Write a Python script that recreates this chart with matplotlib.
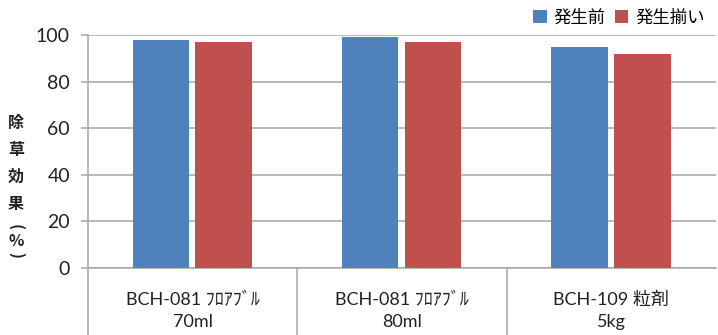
import numpy as np
import matplotlib.pyplot as plt
import matplotlib.transforms as mtransforms

plt.rcParams['font.family'] = ['Lato', 'Noto Sans CJK JP', 'DejaVu Sans']

# data
categories = ['BCH-081 ﾌﾛｱﾌﾞﾙ\n70ml', 'BCH-081 ﾌﾛｱﾌﾞﾙ\n80ml', 'BCH-109 粒剤\n5kg']
series_names = ['発生前', '発生揃い']
before = [98, 99, 95]
after = [97, 97, 92]
ylabel_chars = ['除', '草', '効', '果', '(', '%', ')']

blue = '#4F81BD'
red = '#C0504D'
grey = '#A6A6A6'

fig = plt.figure(figsize=(7.18, 3.35), dpi=100)
ax = fig.add_axes([88 / 718, 67 / 335, 628 / 718, 233 / 335])

x = np.arange(len(categories))
w = 0.27
ax.bar(x - 0.152, before, w, color=blue, label=series_names[0], zorder=3)
ax.bar(x + 0.148, after, w, color=red, label=series_names[1], zorder=3)

ax.set_xlim(-0.5, 2.5)
ax.set_ylim(0, 100)
ax.set_yticks(range(0, 101, 20))
ax.yaxis.grid(True, color=grey, linewidth=1.1, zorder=0)
ax.tick_params(axis='y', length=5, width=1.1, color=grey, labelsize=14, pad=8,
               labelcolor='#222222')
ax.tick_params(axis='x', length=0, labelsize=13, pad=17, labelcolor='#222222')
ax.set_xticks(x)
ax.set_xticklabels(categories, linespacing=1.45)
for lbl in ax.get_xticklabels():
    lbl.set_multialignment('center')

for s in ['top', 'right']:
    ax.spines[s].set_visible(False)
for s in ['left', 'bottom']:
    ax.spines[s].set_color(grey)
    ax.spines[s].set_linewidth(1.1)

# category separators extending below the axis
trans = mtransforms.blended_transform_factory(ax.transData, ax.transAxes)
for xs in [-0.5, 0.5, 1.5]:
    ax.plot([xs, xs], [0, -0.30], color=grey, linewidth=1.1, transform=trans,
            clip_on=False)

# vertical y label, one character per row; brackets turned for vertical writing
cjk = ['Noto Sans CJK JP', 'DejaVu Sans']
ypix = [123, 150, 177, 204, 227, 241, 255]
for ch, yp in zip(ylabel_chars, ypix):
    rot = -90 if ch in '()' else 0
    fig.text(16 / 718, 1 - yp / 335, ch, ha='center', va='center', rotation=rot,
             fontsize=11.5, fontweight='bold', family=cjk, color='#222222')

fig.legend(loc='upper right', bbox_to_anchor=(0.995, 1.0), ncol=2, frameon=False,
           handlelength=0.8, handleheight=0.8, handletextpad=0.4,
           columnspacing=0.5, fontsize=12.5, borderaxespad=0.15)

fig.savefig('out.png', dpi=100)
